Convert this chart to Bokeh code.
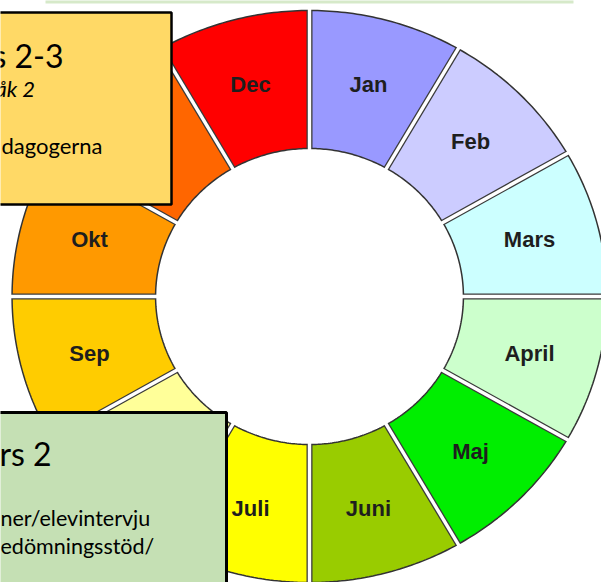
import numpy as np
from bokeh.plotting import figure
from bokeh.models import Range1d
from bokeh.core.properties import value
from bokeh.embed import file_html
from bokeh.resources import INLINE

# ---- data ----
months = ["Jan", "Feb", "Mars", "April", "Maj", "Juni",
          "Juli", "Aug", "Sep", "Okt", "Nov", "Dec"]
shares = [1, 1, 1, 1, 1, 1, 1, 1, 1, 1, 1, 1]
month_colors = ["#9999ff", "#ccccff", "#ccffff", "#ccffcc", "#00ee00", "#99cc00",
                "#ffff00", "#ffff99", "#ffcc00", "#ff9900", "#ff6600", "#ff0000"]

box1_lines = ["s 2-3", "åk 2", "dagogerna"]
box2_lines = ["rs 2", "ner/elevintervju", "edömningsstöd/"]

# ---- geometry (reference pixel space mapped to data) ----
CX, CY = 309, 296
R_OUT, R_IN, STRETCH = 286, 148, 1.04
W, H = 601, 582

def X(px):
    return px - CX

def Y(py):
    return CY - py

p = figure(width=W, height=H, x_range=Range1d(X(0), X(601)), y_range=Range1d(Y(582), Y(0)),
           output_backend="svg", toolbar_location=None, min_border=0,
           x_axis_location=None, y_axis_location=None)
p.grid.visible = False
p.outline_line_color = None
p.background_fill_color = "white"

total = float(sum(shares))
cum = np.concatenate([[0.0], np.cumsum(shares)]) / total
xs, ys, lx, ly = [], [], [], []
for i in range(len(months)):
    a0 = np.pi / 2 - 2 * np.pi * cum[i]
    a1 = np.pi / 2 - 2 * np.pi * cum[i + 1]
    t = np.linspace(a0, a1, 40)
    px = np.concatenate([STRETCH * R_OUT * np.cos(t), STRETCH * R_IN * np.cos(t[::-1])])
    py = np.concatenate([R_OUT * np.sin(t), R_IN * np.sin(t[::-1])])
    xs.append(list(px))
    ys.append(list(py))
    am = (a0 + a1) / 2
    lx.append(STRETCH * 219 * np.cos(am))
    ly.append(219 * np.sin(am))

p.patches(xs, ys, fill_color=month_colors, line_color="#333333", line_width=1.5)

# gaps between segments
b = np.pi / 2 - 2 * np.pi * cum[:-1]
p.segment(STRETCH * R_IN * np.cos(b), R_IN * np.sin(b), STRETCH * R_OUT * np.cos(b), R_OUT * np.sin(b),
          line_color="#3a3a3a", line_width=6)
p.segment(STRETCH * (R_IN - 3) * np.cos(b), (R_IN - 3) * np.sin(b),
          STRETCH * (R_OUT + 3) * np.cos(b), (R_OUT + 3) * np.sin(b),
          line_color="white", line_width=3.4)

p.text(lx, ly, text=months, text_font=value("Liberation Sans"), text_font_style="bold",
       text_font_size="22px", text_color="#1e1e1e", text_align="center", text_baseline="middle")

# top strip
p.quad(left=X(45), right=X(573), top=Y(-2), bottom=Y(3), fill_color="#d6e9c9", line_color=None)

# boxes
p.quad(left=X(-10), right=X(171), top=Y(12), bottom=Y(204), fill_color="#ffd966",
       line_color="black", line_width=2.5)
p.quad(left=X(-10), right=X(226), top=Y(412), bottom=Y(600), fill_color="#c5e0b4",
       line_color="black", line_width=3)

p.text([X(-8)], [Y(55)], text=[box1_lines[0]], text_font=value("Lato"), text_font_size="32px",
       text_color="black", text_baseline="alphabetic")
p.text([X(-5)], [Y(88)], text=[box1_lines[1]], text_font=value("Lato"), text_font_style="italic",
       text_font_size="22px", text_color="black", text_baseline="alphabetic")
p.text([X(1)], [Y(145)], text=[box1_lines[2]], text_font=value("Lato"), text_font_size="22px",
       text_color="black", text_baseline="alphabetic")

p.text([X(-1)], [Y(453)], text=[box2_lines[0]], text_font=value("Lato"), text_font_size="32px",
       text_color="black", text_baseline="alphabetic")
p.text([X(0)], [Y(517)], text=[box2_lines[1]], text_font=value("Lato"), text_font_size="21.5px",
       text_color="black", text_baseline="alphabetic")
p.text([X(0)], [Y(545)], text=[box2_lines[2]], text_font=value("Lato"), text_font_size="21.5px",
       text_color="black", text_baseline="alphabetic")

open("out.html", "w").write(file_html(p, INLINE))
